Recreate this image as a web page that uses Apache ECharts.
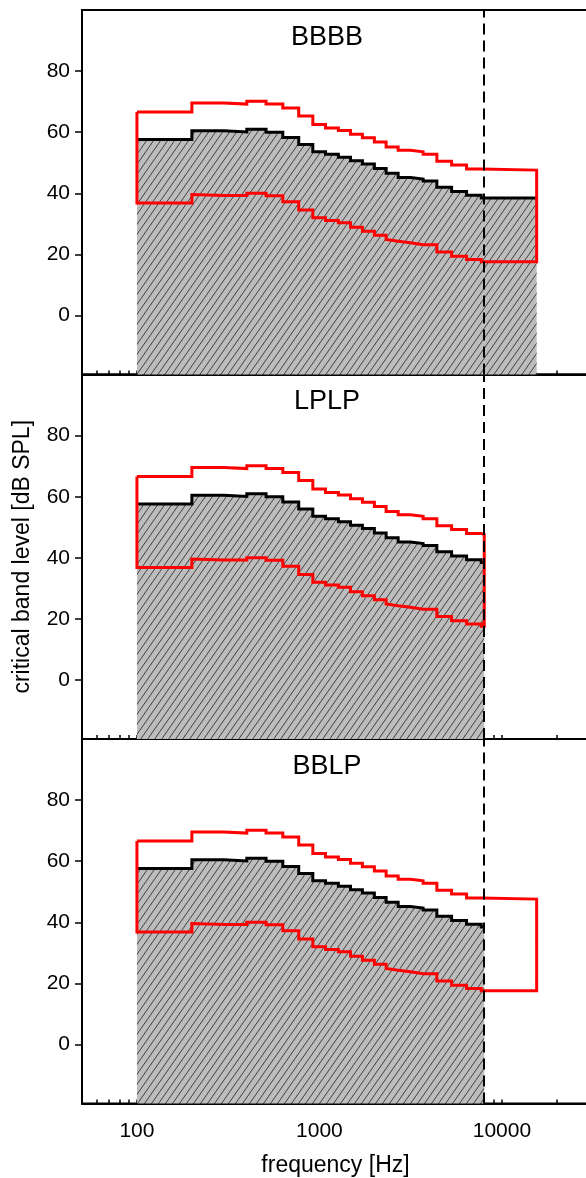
<!DOCTYPE html>
<html>
<head>
<meta charset="utf-8">
<script src="https://cdn.jsdelivr.net/npm/echarts@6/dist/echarts.min.js"></script>
<style>
  html, body { margin: 0; padding: 0; background: #fff; }
  #main { width: 586px; height: 1178px; }
</style>
</head>
<body>
<div id="main"></div>
<script>
// critical band lower edges [Hz] (Zwicker bands)
const bandEdges = [100, 200, 300, 400, 510, 630, 770, 920, 1080, 1270, 1480, 1720, 2000, 2320, 2700, 3150, 3700, 4400, 5300, 6400, 7700]

// levels per band [dB SPL]
const meanLevel  = [57.6, 60.5, 60.1, 61.0, 60.0, 58.3, 56.0, 53.6, 52.8, 51.8, 50.7, 49.6, 48.1, 46.6, 45.2, 44.7, 44.0, 42.0, 40.6, 39.4, 38.5]
const upperLevel = [66.6, 69.6, 69.2, 70.1, 69.2, 67.9, 65.3, 62.5, 61.4, 60.6, 59.3, 58.2, 56.8, 55.2, 54.1, 53.6, 52.8, 50.5, 49.3, 48.0, 47.6]
const lowerLevel = [36.8, 39.6, 39.3, 40.0, 39.2, 37.2, 34.5, 32.0, 31.1, 30.4, 28.9, 27.6, 26.3, 24.9, 24.3, 23.8, 23.2, 20.8, 19.4, 18.3, 17.6]

const broadbandEnd = 15500
const lowpassEnd = 8000

const panelNames = ["BBBB", "LPLP", "BBLP"]
const rangeEnds = [broadbandEnd, lowpassEnd, broadbandEnd]   // where the red range ends
const fillEnds  = [broadbandEnd, lowpassEnd, lowpassEnd]     // where the mean / hatched area ends

const xLabels = [100, 1000, 10000]
const xTicks = [60, 70, 80, 90, 100, 200, 300, 400, 500, 600, 700, 800, 900, 1000,
  2000, 3000, 4000, 5000, 6000, 7000, 8000, 9000, 10000, 20000, 30000]
const yTicks = [0, 20, 40, 60, 80]

const lg = v => Math.log10(v)

const stepPts = (vals, end) => {
  let pts = []
  vals.forEach((v, i) => {
    const x0 = bandEdges[i]
    const x1 = i + 1 < bandEdges.length ? bandEdges[i + 1] : end
    pts.push([lg(x0), v], [lg(x1), v])
  })
  return pts
}

// hatched gray fill
const hatch = document.createElement("canvas")
hatch.width = 7
hatch.height = 10
const hc = hatch.getContext("2d")
hc.fillStyle = "#bdbdbd"
hc.fillRect(0, 0, 7, 10)
hc.strokeStyle = "#333"
hc.lineWidth = 0.9
for (let k = -1; k <= 1; k++) {
  hc.beginPath()
  hc.moveTo(k * 7, 10)
  hc.lineTo(k * 7 + 7, 0)
  hc.stroke()
}

const font = "'Liberation Sans', Arial, sans-serif"
const tops = [10, 374.5, 739]
const panelH = 364.5

let grid = [], xAxis = [], yAxis = [], series = [], title = []

panelNames.forEach((name, i) => {
  grid.push({
    left: 82, width: 507, top: tops[i], height: panelH,
    outerBoundsMode: "none", containLabel: false,
    show: true, borderColor: "#000", borderWidth: 2, backgroundColor: "transparent"
  })

  xAxis.push({
    type: "value", gridIndex: i,
    min: lg(50), max: lg(30000),
    axisLine: { show: true, onZero: false, lineStyle: { color: "#000", width: 2 } },
    axisTick: { show: true, inside: true, length: 4, customValues: xTicks.map(lg), lineStyle: { color: "#000", width: 1.5 } },
    axisLabel: {
      show: i == 2, customValues: xLabels.map(lg),
      formatter: v => String(Math.round(Math.pow(10, v))),
      margin: 17, fontSize: 21, color: "#000", fontFamily: font
    },
    splitLine: { show: false },
    name: i == 2 ? "frequency [Hz]" : "",
    nameLocation: "middle", nameGap: 51,
    nameTextStyle: { fontSize: 23, color: "#000", fontFamily: font }
  })

  yAxis.push({
    type: "value", gridIndex: i,
    min: -19.3, max: 100,
    axisLine: { show: true, lineStyle: { color: "#000", width: 2 } },
    axisTick: { show: true, inside: false, length: 7, customValues: yTicks, lineStyle: { color: "#000", width: 1.5 } },
    axisLabel: { customValues: yTicks, margin: 12, fontSize: 21, color: "#000", fontFamily: font },
    splitLine: { show: false },
    name: i == 1 ? "critical band level [dB SPL]" : "",
    nameLocation: "middle", nameGap: 48,
    nameTextStyle: { fontSize: 23, color: "#000", fontFamily: font }
  })

  title.push({
    text: name, left: 327, top: tops[i] + 14, textAlign: "center", padding: 0,
    textStyle: { fontSize: 27, fontWeight: "normal", color: "#000", fontFamily: font }
  })

  // mean level with hatched area down to the axis
  series.push({
    type: "line", xAxisIndex: i, yAxisIndex: i,
    data: stepPts(meanLevel, fillEnds[i]),
    symbol: "none", z: 2,
    lineStyle: { color: "#000", width: 3, join: "miter" },
    areaStyle: { color: { image: hatch, repeat: "repeat" }, origin: "start", opacity: 1 }
  })

  // red range outline (upper, right edge, lower, left edge)
  const top = stepPts(upperLevel, rangeEnds[i])
  const bottom = stepPts(lowerLevel, rangeEnds[i]).reverse()
  series.push({
    type: "line", xAxisIndex: i, yAxisIndex: i,
    data: top.concat(bottom, [top[0]]),
    symbol: "none", z: 3,
    lineStyle: { color: "#ff0000", width: 3, join: "miter" },
    markLine: {
      silent: true, symbol: ["none", "none"], label: { show: false }, z: 5,
      lineStyle: { color: "#000", width: 2, type: [11, 6] },
      data: [{ xAxis: lg(lowpassEnd) }]
    }
  })
})

const chart = echarts.init(document.getElementById("main"), null, { renderer: "canvas" })
chart.setOption({
  animation: false,
  backgroundColor: "#fff",
  title: title,
  grid: grid,
  xAxis: xAxis,
  yAxis: yAxis,
  series: series
})
</script>
</body>
</html>
